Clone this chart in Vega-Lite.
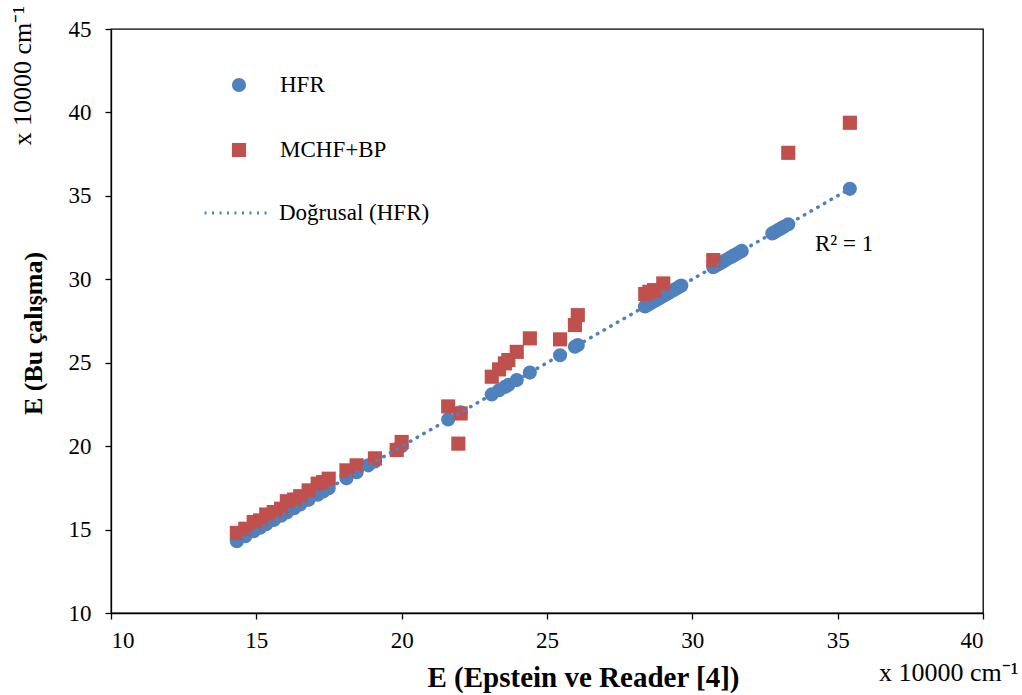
{
  "$schema": "https://vega.github.io/schema/vega-lite/v6.json",
  "width": 872,
  "height": 584,
  "autosize": "none",
  "padding": {"left": 111, "top": 29, "right": 39, "bottom": 82},
  "background": "white",
  "config": {
    "font": "Liberation Serif",
    "view": {"stroke": "black", "strokeWidth": 1.3},
    "axis": {
      "grid": false,
      "domainColor": "black",
      "tickColor": "black",
      "labelColor": "black",
      "titleColor": "black",
      "labelFont": "Liberation Serif",
      "titleFont": "Liberation Serif",
      "labelFontSize": 23,
      "tickSize": 6,
      "domainWidth": 1.3,
      "tickWidth": 1.3
    },
    "legend": {"labelFont": "Liberation Serif", "labelFontSize": 23, "labelColor": "black"},
    "text": {"font": "Liberation Serif"}
  },
  "datasets": {
    "pts": [
      {"series": "HFR", "x": 14.33, "y": 14.30},
      {"series": "HFR", "x": 14.62, "y": 14.60},
      {"series": "HFR", "x": 14.91, "y": 14.90},
      {"series": "HFR", "x": 15.13, "y": 15.11},
      {"series": "HFR", "x": 15.34, "y": 15.32},
      {"series": "HFR", "x": 15.60, "y": 15.58},
      {"series": "HFR", "x": 15.85, "y": 15.83},
      {"series": "HFR", "x": 16.05, "y": 16.03},
      {"series": "HFR", "x": 16.30, "y": 16.28},
      {"series": "HFR", "x": 16.51, "y": 16.50},
      {"series": "HFR", "x": 16.80, "y": 16.78},
      {"series": "HFR", "x": 17.11, "y": 17.09},
      {"series": "HFR", "x": 17.30, "y": 17.28},
      {"series": "HFR", "x": 17.49, "y": 17.47},
      {"series": "HFR", "x": 18.10, "y": 18.08},
      {"series": "HFR", "x": 18.45, "y": 18.44},
      {"series": "HFR", "x": 18.85, "y": 18.85},
      {"series": "HFR", "x": 19.08, "y": 19.08},
      {"series": "HFR", "x": 19.83, "y": 19.83},
      {"series": "HFR", "x": 20.00, "y": 20.00},
      {"series": "HFR", "x": 21.60, "y": 21.60},
      {"series": "HFR", "x": 22.00, "y": 22.00},
      {"series": "HFR", "x": 22.03, "y": 22.02},
      {"series": "HFR", "x": 23.10, "y": 23.10},
      {"series": "HFR", "x": 23.35, "y": 23.35},
      {"series": "HFR", "x": 23.55, "y": 23.55},
      {"series": "HFR", "x": 23.67, "y": 23.67},
      {"series": "HFR", "x": 23.96, "y": 23.96},
      {"series": "HFR", "x": 24.41, "y": 24.41},
      {"series": "HFR", "x": 25.45, "y": 25.45},
      {"series": "HFR", "x": 25.96, "y": 25.96},
      {"series": "HFR", "x": 26.06, "y": 26.06},
      {"series": "HFR", "x": 28.37, "y": 28.37},
      {"series": "HFR", "x": 28.45, "y": 28.45},
      {"series": "HFR", "x": 28.55, "y": 28.55},
      {"series": "HFR", "x": 28.65, "y": 28.65},
      {"series": "HFR", "x": 28.75, "y": 28.75},
      {"series": "HFR", "x": 28.85, "y": 28.85},
      {"series": "HFR", "x": 28.95, "y": 28.95},
      {"series": "HFR", "x": 29.05, "y": 29.05},
      {"series": "HFR", "x": 29.15, "y": 29.15},
      {"series": "HFR", "x": 29.25, "y": 29.25},
      {"series": "HFR", "x": 29.35, "y": 29.35},
      {"series": "HFR", "x": 29.45, "y": 29.45},
      {"series": "HFR", "x": 29.55, "y": 29.55},
      {"series": "HFR", "x": 29.62, "y": 29.62},
      {"series": "HFR", "x": 30.72, "y": 30.72},
      {"series": "HFR", "x": 30.85, "y": 30.85},
      {"series": "HFR", "x": 30.95, "y": 30.95},
      {"series": "HFR", "x": 31.05, "y": 31.05},
      {"series": "HFR", "x": 31.15, "y": 31.15},
      {"series": "HFR", "x": 31.30, "y": 31.30},
      {"series": "HFR", "x": 31.40, "y": 31.40},
      {"series": "HFR", "x": 31.50, "y": 31.50},
      {"series": "HFR", "x": 31.62, "y": 31.62},
      {"series": "HFR", "x": 31.70, "y": 31.70},
      {"series": "HFR", "x": 32.75, "y": 32.75},
      {"series": "HFR", "x": 32.85, "y": 32.85},
      {"series": "HFR", "x": 32.95, "y": 32.95},
      {"series": "HFR", "x": 33.05, "y": 33.05},
      {"series": "HFR", "x": 33.15, "y": 33.15},
      {"series": "HFR", "x": 33.30, "y": 33.30},
      {"series": "HFR", "x": 35.42, "y": 35.42},
      {"series": "MCHF+BP", "x": 14.33, "y": 14.80},
      {"series": "MCHF+BP", "x": 14.62, "y": 15.05},
      {"series": "MCHF+BP", "x": 14.91, "y": 15.45},
      {"series": "MCHF+BP", "x": 15.13, "y": 15.55},
      {"series": "MCHF+BP", "x": 15.34, "y": 15.90},
      {"series": "MCHF+BP", "x": 15.60, "y": 16.05},
      {"series": "MCHF+BP", "x": 15.85, "y": 16.25},
      {"series": "MCHF+BP", "x": 16.05, "y": 16.70},
      {"series": "MCHF+BP", "x": 16.30, "y": 16.80},
      {"series": "MCHF+BP", "x": 16.51, "y": 17.00},
      {"series": "MCHF+BP", "x": 16.80, "y": 17.35},
      {"series": "MCHF+BP", "x": 17.11, "y": 17.75},
      {"series": "MCHF+BP", "x": 17.30, "y": 17.85},
      {"series": "MCHF+BP", "x": 17.49, "y": 18.05},
      {"series": "MCHF+BP", "x": 18.10, "y": 18.55},
      {"series": "MCHF+BP", "x": 18.45, "y": 18.85},
      {"series": "MCHF+BP", "x": 19.08, "y": 19.27},
      {"series": "MCHF+BP", "x": 19.83, "y": 19.77},
      {"series": "MCHF+BP", "x": 20.00, "y": 20.25},
      {"series": "MCHF+BP", "x": 21.60, "y": 22.38},
      {"series": "MCHF+BP", "x": 21.95, "y": 20.15},
      {"series": "MCHF+BP", "x": 22.03, "y": 21.96},
      {"series": "MCHF+BP", "x": 23.10, "y": 24.16},
      {"series": "MCHF+BP", "x": 23.35, "y": 24.60},
      {"series": "MCHF+BP", "x": 23.55, "y": 24.96},
      {"series": "MCHF+BP", "x": 23.67, "y": 25.16},
      {"series": "MCHF+BP", "x": 23.96, "y": 25.65},
      {"series": "MCHF+BP", "x": 24.41, "y": 26.46},
      {"series": "MCHF+BP", "x": 25.45, "y": 26.40},
      {"series": "MCHF+BP", "x": 25.96, "y": 27.26},
      {"series": "MCHF+BP", "x": 26.06, "y": 27.85},
      {"series": "MCHF+BP", "x": 28.38, "y": 29.12},
      {"series": "MCHF+BP", "x": 28.52, "y": 29.25},
      {"series": "MCHF+BP", "x": 28.68, "y": 29.35},
      {"series": "MCHF+BP", "x": 29.00, "y": 29.75},
      {"series": "MCHF+BP", "x": 30.72, "y": 31.15},
      {"series": "MCHF+BP", "x": 33.30, "y": 37.58},
      {"series": "MCHF+BP", "x": 35.42, "y": 39.38}
    ]
  },
  "layer": [
    {
      "data": {"name": "pts"},
      "mark": {"type": "point", "filled": true, "size": 200, "opacity": 1, "strokeWidth": 0},
      "encoding": {
        "x": {
          "field": "x", "type": "quantitative",
          "scale": {"domain": [10, 40], "nice": false, "zero": false},
          "axis": {
            "values": [10, 15, 20, 25, 30, 35, 40],
            "labelFont": "Liberation Serif",
            "labelFontSize": 23,
            "labelPadding": 10,
            "title": "E (Epstein ve Reader [4])",
            "titleFont": "Liberation Serif",
            "titleFontWeight": "bold",
            "titleFontSize": 29,
            "titleX": 472,
            "titleY": 64,
            "titleAlign": "center",
            "titleBaseline": "middle"
          }
        },
        "y": {
          "field": "y", "type": "quantitative",
          "scale": {"domain": [10, 45], "nice": false, "zero": false},
          "axis": {
            "values": [10, 15, 20, 25, 30, 35, 40, 45],
            "labelFont": "Liberation Serif",
            "labelFontSize": 23,
            "labelPadding": 14,
            "title": "E (Bu çalışma)",
            "titleFont": "Liberation Serif",
            "titleFontWeight": "bold",
            "titleFontSize": 26,
            "titleAngle": 270,
            "titleX": -78,
            "titleY": 304,
            "titleAlign": "center",
            "titleBaseline": "middle"
          }
        },
        "color": {
          "field": "series", "type": "nominal",
          "scale": {"domain": ["HFR", "MCHF+BP"], "range": ["#4f81bd", "#c0504d"]},
          "legend": {"orient": "none", "legendX": 116.5, "legendY": 44.5, "title": null, "direction": "vertical", "symbolSize": 200, "labelOffset": 29.5, "rowPadding": 41, "padding": 0, "symbolStrokeWidth": 0, "labelFont": "Liberation Serif", "labelFontSize": 23}
        },
        "shape": {
          "field": "series", "type": "nominal",
          "scale": {"domain": ["HFR", "MCHF+BP"], "range": ["circle", "square"]},
          "legend": {"orient": "none", "legendX": 116.5, "legendY": 44.5, "title": null, "direction": "vertical", "symbolSize": 200, "labelOffset": 29.5, "rowPadding": 41, "padding": 0, "symbolStrokeWidth": 0, "labelFont": "Liberation Serif", "labelFontSize": 23}
        }
      }
    },
    {
      "data": {"name": "pts"},
      "transform": [
        {"filter": "datum.series === 'HFR'"},
        {"regression": "y", "on": "x", "groupby": ["series"]}
      ],
      "mark": {"type": "line", "color": "#4f81bd", "strokeWidth": 3.5, "strokeDash": [0.5, 7.2], "strokeCap": "round"},
      "encoding": {
        "x": {
          "field": "x", "type": "quantitative",
          "scale": {"domain": [10, 40], "nice": false, "zero": false},
          "axis": {"orient": "bottom", "domain": false, "ticks": false, "labels": false, "grid": false,
            "title": "x 10000 cm⁻¹", "titleFont": "Liberation Serif", "titleFontSize": 26, "titleFontWeight": "normal",
            "titleX": 907, "titleY": 59, "titleAlign": "right", "titleBaseline": "middle"}
        },
        "y": {
          "field": "y", "type": "quantitative",
          "scale": {"domain": [10, 45], "nice": false, "zero": false},
          "axis": {"orient": "left", "domain": false, "ticks": false, "labels": false, "grid": false,
            "title": "x 10000 cm⁻¹", "titleFont": "Liberation Serif", "titleFontSize": 26, "titleFontWeight": "normal", "titleAngle": 270,
            "titleX": -89, "titleY": 116, "titleAlign": "left", "titleBaseline": "middle"}
        },
        "opacity": {
          "field": "series", "type": "ordinal",
          "scale": {"domain": ["HFR"], "range": [1]},
          "legend": {"orient": "none", "legendX": 92, "legendY": 149, "title": null, "symbolType": "stroke", "symbolSize": 4489, "symbolStrokeColor": "#4f81bd", "symbolStrokeWidth": 3, "symbolDash": [2, 5.5], "labelExpr": "'Doğrusal (HFR)'", "labelOffset": 6, "padding": 0, "labelFont": "Liberation Serif", "labelFontSize": 23}
        }
      }
    },
    {
      "data": {"values": [{}]},
      "mark": {"type": "text", "text": "R² = 1", "fontSize": 23, "font": "Liberation Serif", "color": "black", "align": "left", "baseline": "middle"},
      "encoding": {
        "x": {"datum": 34.22, "type": "quantitative", "scale": {"domain": [10, 40], "nice": false, "zero": false}, "axis": null},
        "y": {"datum": 32.1, "type": "quantitative", "scale": {"domain": [10, 45], "nice": false, "zero": false}, "axis": null}
      }
    }
  ],
  "resolve": {"scale": {"x": "independent", "y": "independent"}}
}
